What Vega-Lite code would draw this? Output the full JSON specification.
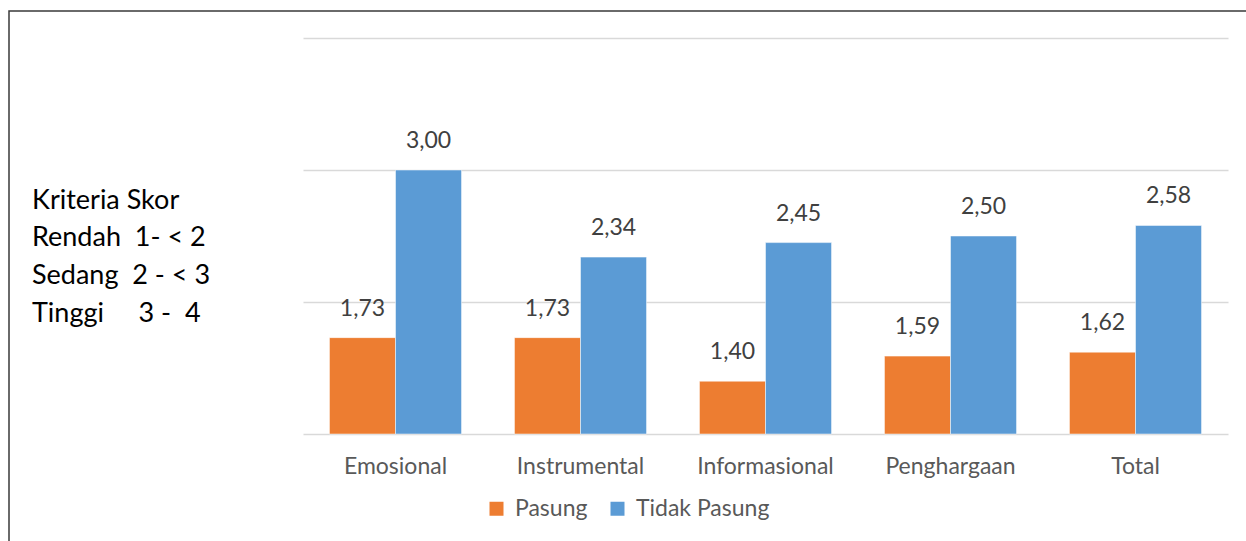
{
  "$schema": "https://vega.github.io/schema/vega-lite/v6.json",
  "width": 1240,
  "height": 533,
  "autosize": {"type": "none"},
  "padding": {"left": 9, "top": 11, "right": -3, "bottom": -3},
  "background": "white",
  "config": {
    "view": {"stroke": "#3a3a3a", "strokeWidth": 1.5},
    "font": "Lato",
    "locale": {"number": {"decimal": ",", "thousands": ".", "grouping": [3], "currency": ["", ""]}}
  },
  "title": {
    "text": ["Kriteria Skor", "Rendah\u00a0 1- < 2", "Sedang\u00a0 2 - < 3", "Tinggi\u00a0\u00a0\u00a0\u00a0 3 -\u00a0 4"],
    "anchor": "start",
    "orient": "top",
    "baseline": "top",
    "align": "left",
    "dx": 23,
    "dy": 321,
    "fontSize": 27,
    "fontWeight": "normal",
    "color": "#000000",
    "lineHeight": 37.8,
    "font": "Lato"
  },
  "data": {
    "values": [
      {"aspek": "Emosional", "kelompok": "Pasung", "skor": 1.73},
      {"aspek": "Emosional", "kelompok": "Tidak Pasung", "skor": 3.00},
      {"aspek": "Instrumental", "kelompok": "Pasung", "skor": 1.73},
      {"aspek": "Instrumental", "kelompok": "Tidak Pasung", "skor": 2.34},
      {"aspek": "Informasional", "kelompok": "Pasung", "skor": 1.40},
      {"aspek": "Informasional", "kelompok": "Tidak Pasung", "skor": 2.45},
      {"aspek": "Penghargaan", "kelompok": "Pasung", "skor": 1.59},
      {"aspek": "Penghargaan", "kelompok": "Tidak Pasung", "skor": 2.50},
      {"aspek": "Total", "kelompok": "Pasung", "skor": 1.62},
      {"aspek": "Total", "kelompok": "Tidak Pasung", "skor": 2.58}
    ]
  },
  "encoding": {
    "x": {
      "field": "aspek",
      "type": "nominal",
      "sort": null,
      "scale": {"range": [294, 1219], "paddingInner": 0.286, "paddingOuter": 0.143},
      "axis": {
        "title": null,
        "labelAngle": 0,
        "labelFontSize": 23,
        "labelColor": "#595959",
        "labelPadding": 21,
        "ticks": false,
        "domain": false,
        "offset": -110,
        "labelFont": "Lato"
      }
    },
    "xOffset": {"field": "kelompok", "type": "nominal", "sort": ["Pasung", "Tidak Pasung"]},
    "y": {
      "field": "skor",
      "type": "quantitative",
      "scale": {"domain": [1, 4], "zero": false, "nice": false, "range": [423, 27]},
      "axis": {
        "title": null,
        "labels": false,
        "ticks": false,
        "domain": false,
        "values": [1, 2, 3, 4],
        "gridColor": "#d9d9d9",
        "gridWidth": 1.5
      }
    }
  },
  "layer": [
    {
      "mark": {"type": "bar", "stroke": "white", "strokeWidth": 0.5},
      "encoding": {
        "y2": {"datum": 1},
        "color": {
          "field": "kelompok",
          "type": "nominal",
          "sort": ["Pasung", "Tidak Pasung"],
          "scale": {"domain": ["Pasung", "Tidak Pasung"], "range": ["#ed7d31", "#5b9bd5"]},
          "legend": {
            "title": null,
            "orient": "none",
            "direction": "horizontal",
            "legendX": 476,
            "legendY": 486,
            "symbolType": "square",
            "symbolSize": 196,
            "symbolStrokeWidth": 0,
            "labelFontSize": 23,
            "labelColor": "#595959",
            "labelFont": "Lato",
            "columnPadding": 18,
            "labelOffset": 7
          }
        }
      }
    },
    {
      "mark": {"type": "text", "baseline": "bottom", "dy": -17, "fontSize": 23, "color": "#404040", "font": "Lato"},
      "encoding": {
        "text": {"field": "skor", "type": "quantitative", "format": ".2f"}
      }
    }
  ]
}
